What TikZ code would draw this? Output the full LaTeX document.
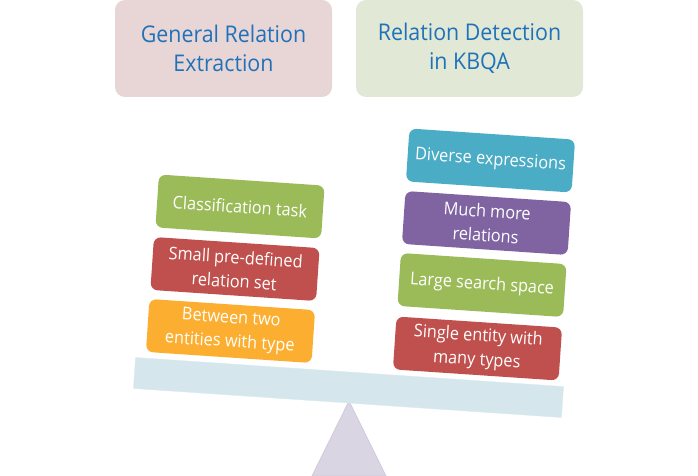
\documentclass[tikz,border=0pt]{standalone}
\usepackage{fontspec}
\setmainfont{Open Sans}[FakeStretch=0.93]
\definecolor{ttl}{HTML}{1F72B8}
\definecolor{pinkbg}{HTML}{E8D5D6}
\definecolor{greenbg}{HTML}{E1E8D6}
\definecolor{cgreen}{HTML}{9BBB59}
\definecolor{cred}{HTML}{C0504D}
\definecolor{corange}{HTML}{FBAE30}
\definecolor{ccyan}{HTML}{4BACC6}
\definecolor{cpurple}{HTML}{8064A2}
\definecolor{beamc}{HTML}{D5E6EC}
\definecolor{fulc}{HTML}{DAD5E3}
\definecolor{fulcline}{HTML}{D0CADD}
\begin{document}
\begin{tikzpicture}[x=1pt,y=-1pt,
  title/.style={rounded corners=10pt, minimum height=97pt, inner sep=0pt,
    align=center, text=ttl, font=\fontsize{23}{29}\selectfont},
  item/.style={rounded corners=7pt, minimum width=166pt, minimum height=53pt,
    inner sep=0pt, align=center, text=white, rotate=-3.85,
    font=\fontsize{17.5}{24}\selectfont},
]
\useasboundingbox (0,0) rectangle (698,476);
% titles
\node[title, fill=pinkbg, minimum width=217pt] (gre) at (223.5,48.5) {General Relation\\Extraction};
\node[title, fill=greenbg, minimum width=227pt] (rdk) at (469.5,48.5) {Relation Detection\\in KBQA};
% fulcrum
\coordinate (apex) at (349,401);
\coordinate (bl) at (312,476);
\coordinate (br) at (386,476);
\draw[fill=fulc, draw=fulcline, line width=0.8pt] (apex) -- (br) -- (bl) -- cycle;
% beam
\node[fill=beamc, draw=beamc!85!white, minimum width=429pt, minimum height=31pt,
  inner sep=0pt, rotate=-3.88] (beam) at (348.5,387.5) {};
% left items
\node[item, fill=cgreen] (cls) at (240,206.5) {Classification task};
\node[item, fill=cred] (small) at (235,269) {Small pre-defined\\relation set};
\node[item, fill=corange] (betw) at (230.5,331) {Between two\\entities with type};
% right items
\node[item, fill=ccyan] (div) at (490.5,160.5) {Diverse expressions};
\node[item, fill=cpurple] (much) at (486.5,223) {Much more\\relations};
\node[item, fill=cgreen] (large) at (482,285) {Large search space};
\node[item, fill=cred] (single) at (477.5,348.5) {Single entity with\\many types};
\end{tikzpicture}
\end{document}
